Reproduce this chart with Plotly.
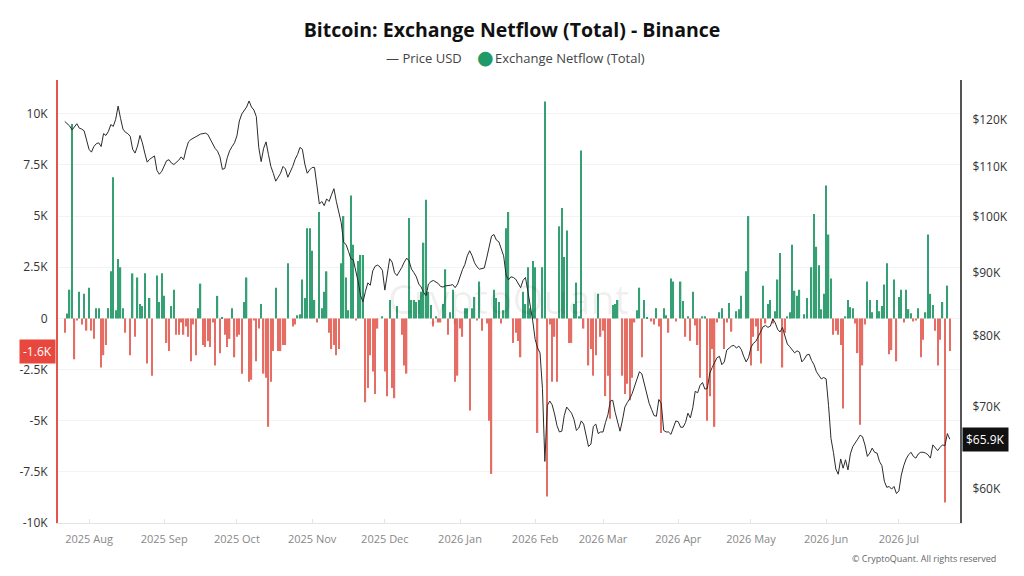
import math
import pandas as pd
import plotly.graph_objects as go

# ---------------- data ----------------
start_date = "2025-07-22"

# Exchange netflow in thousands of BTC, daily, split into four stretches
netflow_jul_oct = [
    -0.7, 0.24, 1.4, 9.5, -2.0, -0.1, 1.3, -0.3, 1.2, -0.6,
    1.5, -0.6, -1.0, 0.5, 0.5, -2.4, -1.8, -1.3, 0.5, 2.3,
    6.9, 0.4, 2.9, 2.5, 0.5, -0.7, 0.0, -1.8, 2.2, -0.9,
    2.0, 0.7, 0.6, 2.2, -2.2, 1.0, -2.8, 0.0, 2.1, 0.8,
    2.2, 1.1, -1.2, -1.6, 0.6, 1.4, -0.8, -0.8, -0.2, -0.8,
    -0.4, -0.9, -2.1, -0.3, -1.8, 0.5, 1.7, -1.3, -1.4, -1.1,
    -1.4, -0.2, -2.3, 1.1, -1.7, 0.05, -0.8, -1.4, -1.0, 0.5,
    -1.9, -0.9, -0.8, -2.7, 0.8, 2.0, -3.1, -3.0, -0.1, -2.1,
    -0.5, 0.7, -2.7, -2.9, -5.3, -3.1, -1.6, 1.5, -1.6, -1.6,
    -1.3, -1.3, 2.7, 0.0, -0.4, -0.3, 0.15, 0.2, 1.9, 1.0]
netflow_oct_feb = [
    4.4, 4.4, 3.3, 0.9, -0.2, 5.2, 0.5, 1.3, 2.3, -0.7,
    -1.5, -1.3, -1.8, -1.5, 2.7, 5.0, 2.0, 0.4, 6.0, 3.6,
    -0.1, 2.8, 3.1, 3.1, -4.1, -3.4, -1.8, -2.6, -3.7, -0.5,
    0.0, 0.1, -2.6, -3.8, 0.9, -3.4, -3.9, 0.6, 0.0, -0.8,
    -2.3, -2.7, 4.9, 0.9, 0.9, 0.8, 0.9, 1.3, 3.7, 5.8,
    1.3, 0.65, -0.4, 0.1, -0.2, -0.2, 0.7, 2.4, -0.8, 0.3,
    1.4, -3.1, -2.8, -0.5, -0.9, 0.5, 0.5, -4.5, 0.5, 1.05,
    -0.1, 1.8, -0.6, 0.0, -0.25, -5.0, -7.6, 1.4, 1.0, 0.8,
    -0.25, 0.4, 4.4, 5.2, 0.0, -1.2, -0.7, -1.1, -1.9, 1.3,
    0.7, 2.5, 0.5, 2.8, 2.5, -5.6, 0.0, 2.5, 10.6]
netflow_feb_apr = [
    -8.7, -0.3, -3.1, -0.9, -3.1, 4.5, 5.4, 3.0, 4.3, -1.2,
    -1.2, 0.7, 1.75, 0.1, 8.2, -0.5, 0.0, -2.3, -1.5, -2.8,
    -1.8, 1.2, -0.9, -0.6, -3.8, -2.8, -4.9, 0.65, 0.7, 0.9,
    0.0, -2.8, -3.7, -3.2, -4.0, -2.9, -0.2, 0.4, 1.5, -1.9,
    0.9, 0.05, 0.0, -0.15, -0.3, 0.5, -0.4, -5.6, 0.5, 0.15,
    -0.7, 1.95, 1.8, -0.15, 0.0, 1.8, 0.85, -0.9, 0.1, -1.1,
    1.3, -0.35, -1.3, -2.9, 0.1, 0.1, -5.0, -3.8, -1.5, -5.3,
    -0.2, 0.3, 0.5, -1.5, -0.2, 0.75, -0.65, 0.0, 0.35, 0.45,
    1.1, 0.0, 2.3, 5.0, -2.3]
netflow_may_jul = [
    -0.9, -0.4, -1.6, -2.2, 1.6, -0.25, 0.7, 0.9, -0.25, 0.35,
    1.9, 3.2, -2.4, -0.7, 0.1, 0.3, 3.6, 1.35, 1.1, 1.4,
    0.0, 0.2, 1.0, 0.0, 2.5, 5.1, 3.5, 2.6, 0.45, 1.2,
    6.5, 4.1, 1.95, -0.8, -0.6, -0.8, -1.3, -4.4, 0.1, 0.9,
    0.55, 0.5, -0.25, -1.7, -5.2, -2.3, -0.3, 1.8, 0.9, 0.3,
    0.0, 0.9, 0.35, 0.6, 1.65, 2.7, -1.75, -1.55, 1.9, -2.1,
    1.05, 1.4, -0.2, 1.4, 0.45, 0.25, -0.15, -0.1, 0.5, -1.9,
    -1.05, 0.3, 4.1, 1.2, 0.65, -0.6, -2.3, -1.05, 0.8, -9.0,
    1.6, -1.6]

# BTC price in thousands of USD, daily
price_jul_oct = [
    119.7, 119.3, 118.7, 117.8, 118.6, 119.2, 118.2, 118.0, 117.6, 115.8,
    113.6, 113.0, 114.2, 114.8, 115.0, 114.2, 117.0, 116.6, 117.5, 119.0,
    118.6, 120.2, 123.2, 120.4, 118.0, 117.3, 117.0, 116.4, 113.6, 112.8,
    114.3, 116.6, 115.0, 112.8, 110.9, 111.5, 111.9, 112.2, 109.2, 108.4,
    109.0, 110.0, 111.2, 111.4, 110.7, 110.4, 110.8, 111.3, 112.0, 111.4,
    113.5, 115.2, 115.7, 116.0, 116.2, 116.6, 116.9, 117.0, 117.1, 116.8,
    115.8, 114.6, 113.8, 113.2, 112.0, 109.4, 109.6, 111.8, 113.3, 114.2,
    115.0, 116.5, 119.8, 121.4, 122.2, 123.0, 124.4, 123.0, 122.3, 120.8,
    114.0, 111.0, 113.8, 115.2, 112.5, 110.0, 108.6, 107.0, 107.8, 108.6,
    110.0, 109.5, 107.8, 108.8, 110.0, 111.5, 112.5, 114.0, 113.6, 110.5]
price_oct_feb = [
    108.6, 109.3, 109.8, 109.8, 105.5, 102.5, 103.0, 102.2, 103.5, 103.0,
    104.3, 105.5, 103.0, 101.0, 99.0, 95.4, 95.0, 93.8, 92.5, 92.3,
    90.6, 88.6, 86.3, 85.3, 87.0, 88.4, 88.0, 90.4, 91.2, 91.4,
    91.1, 90.5, 87.2, 90.0, 92.5, 91.9, 90.1, 89.6, 90.2, 91.0,
    91.9, 92.6, 92.1, 90.7, 90.1, 89.4, 88.2, 87.7, 86.8, 86.3,
    88.2, 88.6, 88.8, 88.6, 88.3, 87.8, 87.7, 87.9, 87.9, 88.0,
    88.1, 87.6, 88.2, 89.5, 90.6, 91.5, 93.0, 93.9, 93.0, 91.8,
    91.1, 90.7, 90.8, 90.9, 92.6, 94.5, 96.5, 96.8, 95.8, 95.5,
    94.3, 93.0, 89.7, 88.9, 89.4, 89.3, 89.0, 88.2, 87.6, 88.8,
    89.3, 87.0, 84.8, 82.3, 79.5, 78.2, 77.5, 72.5, 63.2]
price_feb_apr = [
    70.2, 70.8, 70.3, 69.1, 67.6, 66.8, 66.9, 68.9, 70.0, 69.6,
    69.2, 68.4, 67.0, 67.3, 68.2, 67.8, 66.2, 65.0, 65.3, 67.5,
    67.8, 66.6, 66.8, 66.8, 68.0, 69.0, 70.8, 70.9, 69.3, 68.0,
    66.9, 68.3, 70.0, 70.6, 71.1, 71.8, 72.7, 73.9, 74.8, 74.5,
    73.2, 71.6, 70.5, 69.7, 68.9, 68.8, 71.0, 70.5, 67.0, 66.8,
    66.8, 66.5, 67.5, 68.2, 68.1, 67.4, 67.4, 68.0, 69.2, 68.6,
    69.9, 72.1, 71.9, 72.9, 73.3, 72.4, 72.5, 74.6, 75.4, 76.0,
    76.8, 77.0, 75.8, 76.2, 77.9, 78.2, 78.5, 78.6, 78.2, 78.5,
    78.0, 77.0, 76.2, 76.8, 78.3]
price_may_jul = [
    78.9, 79.2, 79.9, 80.6, 81.4, 81.6, 81.3, 81.5, 82.6, 82.0,
    81.0, 80.6, 81.3, 80.0, 78.8, 78.4, 78.0, 77.5, 77.8, 77.6,
    76.2, 76.6, 77.2, 77.3, 76.4, 75.8, 74.8, 74.2, 73.8, 74.0,
    73.8, 70.2, 66.0, 64.3, 62.3, 61.7, 63.5, 62.4, 63.4, 62.2,
    64.1, 65.0, 65.4, 65.9, 66.4, 66.2, 65.2, 63.8, 64.2, 64.8,
    64.3, 64.2, 63.2, 62.7, 60.9, 60.2, 60.3, 60.0, 60.3, 59.5,
    59.8, 61.6, 62.7, 63.5, 64.0, 64.3, 63.8, 63.6, 64.1, 64.3,
    64.3, 64.2, 64.0, 63.6, 65.2, 64.8, 64.5, 64.9, 65.2, 65.1,
    66.6, 65.9]

left_tick_vals = [-10000, -7500, -5000, -2500, 0, 2500, 5000, 7500, 10000]
left_tick_text = ["-10K", "-7.5K", "-5K", "-2.5K", "0", "2.5K", "5K", "7.5K", "10K"]
right_tick_vals = [60000, 70000, 80000, 90000, 100000, 110000, 120000]
right_tick_text = ["$60K", "$70K", "$80K", "$90K", "$100K", "$110K", "$120K"]
month_ticks = pd.date_range("2025-08-01", "2026-07-01", freq="MS")
month_text = [d.strftime("%Y %b") for d in month_ticks]

# ---------------- build ----------------
netflow = [v * 1000 for v in netflow_jul_oct + netflow_oct_feb + netflow_feb_apr + netflow_may_jul]
price = [v * 1000 for v in price_jul_oct + price_oct_feb + price_feb_apr + price_may_jul]
dates = pd.date_range(start_date, periods=len(netflow), freq="D")

GREEN = "#34a073"
RED = "#e66d63"
colors = [GREEN if v >= 0 else RED for v in netflow]
FONT = "Open Sans"

fig = go.Figure()
fig.add_trace(go.Bar(x=dates, y=netflow, marker=dict(color=colors, line=dict(width=0)),
                     showlegend=False, yaxis="y", name="Exchange Netflow (Total)"))
fig.add_trace(go.Scatter(x=dates, y=price, mode="lines", line=dict(color="#2b2b2b", width=1),
                         showlegend=False, yaxis="y2", name="Price USD"))

L, R, T, B = 58, 64, 80, 53
W, H = 1024, 576
pw, ph = W - L - R, H - T - B


def px(x):
    return (x - L) / pw


def py(y):
    return (H - B - y) / ph


last_nf = netflow[-1]
last_px = price[-1]

fig.update_layout(
    width=W, height=H, autosize=False,
    margin=dict(l=L, r=R, t=T, b=B),
    paper_bgcolor="white", plot_bgcolor="white",
    bargap=0.45,
    font=dict(family=FONT, color="#333"),
    title=dict(text="<b>Bitcoin: Exchange Netflow (Total) - Binance</b>",
               x=0.5, xanchor="center", y=1 - 30 / H, yanchor="middle",
               font=dict(family=FONT, size=19.5, color="#111")),
    xaxis=dict(type="date", range=["2025-07-19 05:00", "2026-07-26 05:00"],
               tickvals=month_ticks, ticktext=month_text,
               tickfont=dict(size=11, color="#888"),
               showgrid=False, showline=True, linecolor="#e4e4e4", linewidth=1,
               ticks="inside", ticklen=4, tickcolor="#e4e4e4", ticklabelstandoff=6),
    yaxis=dict(range=[-10000, 11650], tickvals=left_tick_vals, ticktext=left_tick_text,
               tickfont=dict(size=12, color="#333"),
               showgrid=True, gridcolor="#f3f3f3", zeroline=False,
               showline=True, linecolor="#e5534b", linewidth=2, ticklabelstandoff=6),
    yaxis2=dict(overlaying="y", side="right", type="log",
                range=[math.log10(56300), math.log10(129400)],
                tickvals=right_tick_vals, ticktext=right_tick_text,
                tickfont=dict(size=12, color="#333"),
                showgrid=False, zeroline=False,
                showline=True, linecolor="#555", linewidth=2, ticklabelstandoff=8),
)

annotations = [
    dict(text="CryptoQuant", xref="paper", yref="paper", x=px(508), y=py(298),
         showarrow=False, font=dict(size=40, color="rgba(0,0,0,0.07)", family=FONT)),
    dict(text="— Price USD", xref="paper", yref="paper", x=px(464), y=py(58),
         xanchor="right", yanchor="middle", showarrow=False,
         font=dict(size=13, color="#444", family=FONT)),
    dict(text="●", xref="paper", yref="paper", x=px(485), y=py(57),
         xanchor="center", yanchor="middle", showarrow=False,
         font=dict(size=19, color="#1f9a68", family="DejaVu Sans")),
    dict(text="Exchange Netflow (Total)", xref="paper", yref="paper", x=px(493), y=py(58),
         xanchor="left", yanchor="middle", showarrow=False,
         font=dict(size=13, color="#444", family=FONT)),
    dict(text="© CryptoQuant. All rights reserved", xref="paper", yref="paper",
         x=px(998), y=py(558), xanchor="right", yanchor="middle", showarrow=False,
         font=dict(size=9, color="#666", family=FONT)),
    dict(text=f"{last_nf / 1000:.1f}K", xref="paper", yref="y", x=0, y=last_nf,
         xanchor="right", yanchor="middle", xshift=-2, showarrow=False,
         bgcolor="#e8473e", borderpad=3, font=dict(size=12, color="white", family=FONT)),
    dict(text=f"${last_px / 1000:.1f}K", xref="paper", yref="y2", x=1, y=math.log10(last_px),
         xanchor="left", yanchor="middle", xshift=2, showarrow=False,
         bgcolor="#111", borderpad=3, font=dict(size=12, color="white", family=FONT)),
]
fig.update_layout(annotations=annotations)

fig.write_html("out.html")
